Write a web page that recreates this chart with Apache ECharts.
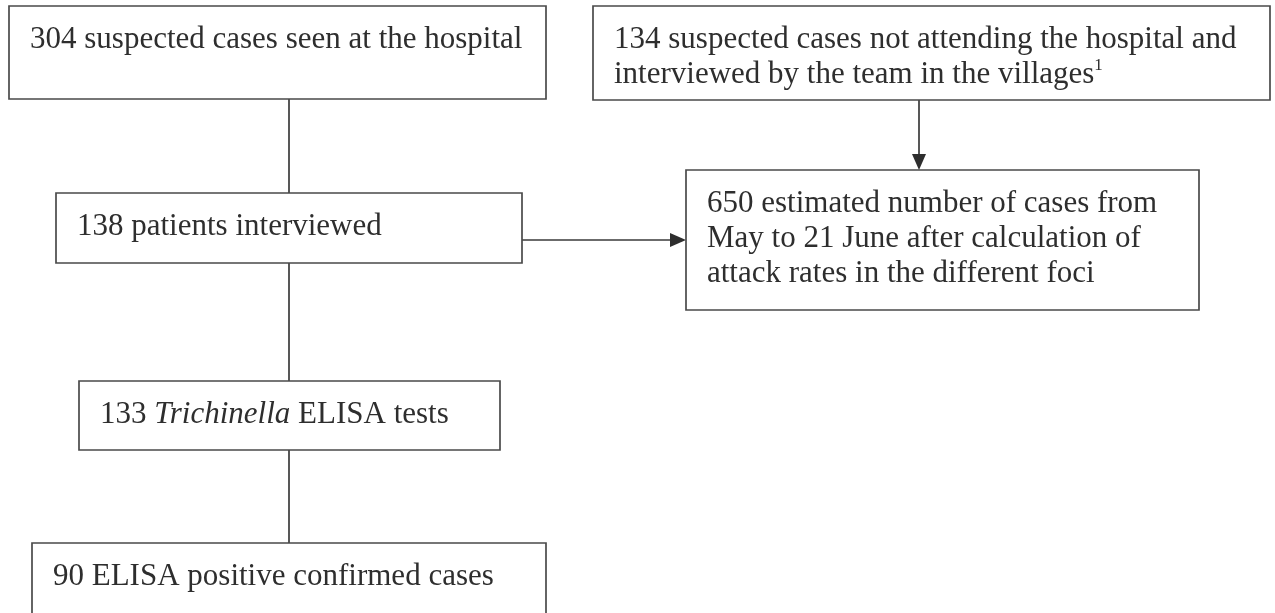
<!DOCTYPE html>
<html><head><meta charset="utf-8">
<script src="https://cdn.jsdelivr.net/npm/echarts@6/dist/echarts.min.js"></script>
<style>html,body{margin:0;padding:0;background:#fff}#c{width:1275px;height:613px}</style>
</head><body><div id="c"></div>
<script>
// ---- data ----
const counts = [304, 134, 138, 650, 133, 90];
const descriptions = [
  ['suspected cases seen at the hospital'],
  ['suspected cases not attending the hospital and', 'interviewed by the team in the villages{sup|1}'],
  ['patients interviewed'],
  ['estimated number of cases from', 'May to 21 June after calculation of', 'attack rates in the different foci'],
  ['{i|Trichinella} ELISA tests'],
  ['ELISA positive confirmed cases']
];
const linkTypes = ['line', 'arrow', 'arrow', 'line', 'line']; // 0->2, 1->3, 2->3, 2->4, 4->5

// ---- layout (units of the hidden axes) ----
const boxLayout = [[9,6,546,99],[593,6,1270,100],[56,193,522,263],[686,170,1199,310],[79,381,500,450],[32,543,546,620]];
const linkLayout = [[289,99,289,193],[919,100,919,170],[522,240,686,240],[289,263,289,381],[289,450,289,543]];

const FONT = '"Liberation Serif", "Times New Roman", serif';
const chart = echarts.init(document.getElementById('c'), null, {renderer: 'canvas'});

function boxText(i) {
  const lines = descriptions[i].slice();
  lines[0] = counts[i] + ' ' + lines[0];
  return lines.join('\n');
}

chart.setOption({
  animation: false,
  backgroundColor: '#ffffff',
  grid: {left: 0, right: 0, top: 0, bottom: 0},
  xAxis: {type: 'value', min: 0, max: 1275, show: false},
  yAxis: {type: 'value', min: 0, max: 613, inverse: true, show: false},
  series: [
    {
      type: 'custom',
      clip: false,
      data: linkLayout.map((l, i) => [l[0], l[1], l[2], l[3], i]),
      renderItem: function (params, api) {
        const i = api.value(4);
        const p0 = api.coord([api.value(0), api.value(1)]);
        const p1 = api.coord([api.value(2), api.value(3)]);
        const children = [];
        const isArrow = linkTypes[i] === 'arrow';
        const len = 16, hw = 7;
        const dx = p1[0] - p0[0], dy = p1[1] - p0[1];
        const d = Math.sqrt(dx * dx + dy * dy);
        const ux = dx / d, uy = dy / d;
        const end = isArrow ? [p1[0] - ux * len, p1[1] - uy * len] : p1;
        children.push({type: 'line', shape: {x1: p0[0], y1: p0[1], x2: end[0], y2: end[1]},
          style: {stroke: '#3a3a3a', lineWidth: 1.7}});
        if (isArrow) {
          children.push({type: 'polygon', shape: {points: [
            [p1[0], p1[1]],
            [end[0] - uy * hw, end[1] + ux * hw],
            [end[0] + uy * hw, end[1] - ux * hw]
          ]}, style: {fill: '#2e2e2e'}});
        }
        return {type: 'group', children: children};
      }
    },
    {
      type: 'custom',
      clip: false,
      data: boxLayout.map((b, i) => [b[0], b[1], b[2], b[3], i]),
      renderItem: function (params, api) {
        const i = api.value(4);
        const p0 = api.coord([api.value(0), api.value(1)]);
        const p1 = api.coord([api.value(2), api.value(3)]);
        return {
          type: 'group',
          children: [
            {type: 'rect', shape: {x: p0[0], y: p0[1], width: p1[0] - p0[0], height: p1[1] - p0[1]},
              style: {fill: '#ffffff', stroke: '#4a4a4a', lineWidth: 1.7}},
            {type: 'text', x: p0[0] + 21, y: p0[1] + 16,
              style: {
                text: boxText(i),
                fontSize: 31, fontFamily: FONT, fill: '#2e2e2e',
                lineHeight: 35, verticalAlign: 'top', align: 'left',
                rich: {
                  sup: {fontSize: 17, fontFamily: FONT, fill: '#2e2e2e', verticalAlign: 'top', lineHeight: 35},
                  i: {fontSize: 31, fontFamily: FONT, fontStyle: 'italic', fill: '#2e2e2e', lineHeight: 35}
                }
              }}
          ]
        };
      }
    }
  ]
});
</script>
</body></html>
